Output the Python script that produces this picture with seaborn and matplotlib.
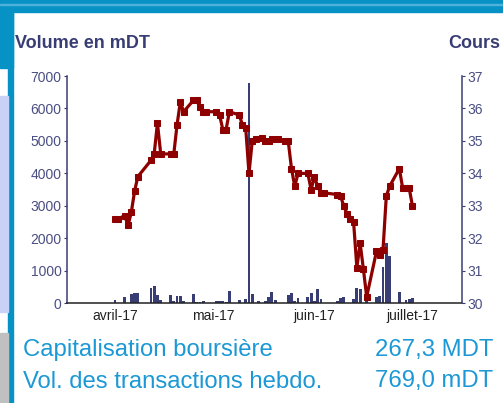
import matplotlib
matplotlib.use("Agg")
import matplotlib.pyplot as plt
import matplotlib.dates as mdates
from matplotlib.patches import Rectangle
import pandas as pd
import seaborn as sns

# Cours journalier (axe droit)
price_dates = [
    "2017-04-01", "2017-04-02", "2017-04-04", "2017-04-05", "2017-04-06",
    "2017-04-07", "2017-04-08", "2017-04-12", "2017-04-13", "2017-04-14",
    "2017-04-15", "2017-04-18", "2017-04-19", "2017-04-20", "2017-04-21",
    "2017-04-22", "2017-04-25", "2017-04-26", "2017-04-27", "2017-04-28",
    "2017-04-29", "2017-05-02", "2017-05-03", "2017-05-04", "2017-05-05",
    "2017-05-06", "2017-05-09", "2017-05-10", "2017-05-11", "2017-05-12",
    "2017-05-13", "2017-05-14", "2017-05-16", "2017-05-17", "2017-05-18",
    "2017-05-19", "2017-05-21", "2017-05-23", "2017-05-24", "2017-05-25",
    "2017-05-26", "2017-05-27", "2017-05-30", "2017-05-31", "2017-06-01",
    "2017-06-02", "2017-06-03", "2017-06-04", "2017-06-08", "2017-06-09",
    "2017-06-10", "2017-06-11", "2017-06-12", "2017-06-13", "2017-06-14",
    "2017-06-15", "2017-06-16", "2017-06-17", "2017-06-20", "2017-06-21",
    "2017-06-22", "2017-06-23", "2017-06-24", "2017-06-27", "2017-06-28",
    "2017-06-29", "2017-06-30", "2017-07-01",
]
price = [
    32.6, 32.6, 32.7, 32.4, 32.8,
    33.45, 33.9, 34.4, 34.6, 35.55,
    34.6, 34.6, 34.6, 35.5, 36.2,
    35.9, 36.25, 36.25, 36.05, 35.9,
    35.9, 35.9, 35.8, 35.35, 35.35,
    35.9, 35.8, 35.5, 35.4, 34.0,
    35.0, 35.05, 35.1, 35.0, 35.0,
    35.05, 35.05, 35.0, 35.0, 34.15,
    33.6, 34.0, 34.0, 33.5, 33.9,
    33.6, 33.4, 33.4, 33.35, 33.3,
    33.0, 32.75, 32.6, 32.5, 31.1,
    31.85, 31.05, 30.2, 31.6, 31.5,
    31.65, 33.3, 33.6, 34.15, 33.55,
    33.55, 33.55, 33.0,
]

# Volume journalier en mDT (axe gauche)
volume_dates = [
    "2017-04-01", "2017-04-04", "2017-04-06", "2017-04-07", "2017-04-08",
    "2017-04-12", "2017-04-13", "2017-04-14", "2017-04-15", "2017-04-18",
    "2017-04-19", "2017-04-20", "2017-04-21", "2017-04-22", "2017-04-25",
    "2017-04-26", "2017-04-27", "2017-04-28", "2017-05-02", "2017-05-03",
    "2017-05-04", "2017-05-05", "2017-05-06", "2017-05-09", "2017-05-11",
    "2017-05-12", "2017-05-13", "2017-05-15", "2017-05-17", "2017-05-18",
    "2017-05-19", "2017-05-20", "2017-05-24", "2017-05-25", "2017-05-26",
    "2017-05-27", "2017-05-30", "2017-05-31", "2017-06-01", "2017-06-02",
    "2017-06-03", "2017-06-08", "2017-06-09", "2017-06-10", "2017-06-13",
    "2017-06-14", "2017-06-15", "2017-06-17", "2017-06-20", "2017-06-21",
    "2017-06-22", "2017-06-23", "2017-06-24", "2017-06-27", "2017-06-29",
    "2017-06-30", "2017-07-01",
]
volume = [
    115, 205, 290, 308, 308,
    483, 524, 267, 103, 267,
    72, 236, 236, 72, 277,
    50, 30, 82, 82, 82,
    70, 50, 375, 100, 123,
    6780, 285, 75, 60, 185,
    345, 100, 257, 308, 82,
    154, 205, 308, 82, 431,
    123, 82, 154, 185, 123,
    472, 452, 82, 185, 226,
    1109, 1870, 1458, 339, 100,
    123, 154,
]

month_ticks = ["2017-04-01", "2017-05-01", "2017-06-01", "2017-07-01"]
month_labels = ["avril-17", "mai-17", "juin-17", "juillet-17"]
vol_ticks = [0, 1000, 2000, 3000, 4000, 5000, 6000, 7000]
price_ticks = [30, 31, 32, 33, 34, 35, 36, 37]

NAVY = "#383d74"
RED = "#8e0000"
BLUE_TXT = "#1b98d5"
BAND = "#0692c4"

sns.set_theme(style="white")
plt.rcParams["font.family"] = ["Liberation Sans", "DejaVu Sans"]

vol_df = pd.DataFrame({"x": mdates.date2num(pd.to_datetime(volume_dates)), "vol": volume})
price_df = pd.DataFrame({"x": mdates.date2num(pd.to_datetime(price_dates)), "cours": price})

fig = plt.figure(figsize=(5.03, 4.03), dpi=100)
fig.patch.set_facecolor("white")

# cadre du site (bandeau bleu, bords gauches)
deco = [
    ((0, 391 / 403), 1, 12 / 403, BAND),
    ((0, 335 / 403), 13 / 503, 68 / 403, BAND),
    ((8 / 503, 0), 5 / 503, 1, BAND),
    ((0, 91 / 403), 8 / 503, 216 / 403, "#c8d2f7"),
    ((0, 0), 8 / 503, 70 / 403, "#c0c0c0"),
    ((0, 398 / 403), 1, 1 / 403, "#4fb1dc"),
]
for xy, w, h, c in deco:
    fig.patches.append(Rectangle(xy, w, h, transform=fig.transFigure, color=c, zorder=0))

ax = fig.add_axes([67 / 503, 99.7 / 403, 395.3 / 503, 227.3 / 403])
sns.histplot(data=vol_df, x="x", weights="vol", discrete=True, shrink=0.86,
             color=NAVY, alpha=1, linewidth=0, ax=ax)
ax.set_ylim(0, 7000)
ax.set_yticks(vol_ticks)
ax.set_xlim(mdates.date2num(pd.Timestamp("2017-03-17 08:00")),
            mdates.date2num(pd.Timestamp("2017-07-16 06:00")))
ax.set_xticks(mdates.date2num(pd.to_datetime(month_ticks)))
ax.set_xticklabels(month_labels)
ax.set_xlabel("")
ax.set_ylabel("")

ax2 = ax.twinx()
sns.lineplot(data=price_df, x="x", y="cours", ax=ax2, color=RED, linewidth=2.3,
             marker="s", markersize=4.3, markeredgecolor=RED, markerfacecolor=RED)
ax2.set_ylim(30, 37)
ax2.set_yticks(price_ticks)
ax2.set_xlabel("")
ax2.set_ylabel("")

for a in (ax, ax2):
    for s in a.spines.values():
        s.set_visible(False)
ax.spines["left"].set_visible(True)
ax.spines["left"].set_color(NAVY)
ax.spines["left"].set_linewidth(1.1)
ax.spines["bottom"].set_visible(True)
ax.spines["bottom"].set_color("#222222")
ax.spines["bottom"].set_linewidth(1.1)
ax2.spines["right"].set_visible(True)
ax2.spines["right"].set_color(NAVY)
ax2.spines["right"].set_linewidth(1.1)

ax.tick_params(axis="y", left=True, length=2.5, width=0.8, color=NAVY, pad=1.5,
               labelsize=10, labelcolor="#4a4e82")
ax.tick_params(axis="x", bottom=False, length=0, pad=4, labelsize=10, labelcolor="#222222")
ax2.tick_params(axis="y", right=True, length=2.5, width=0.8, color=NAVY, pad=1.5,
                labelsize=10, labelcolor="#4a4e82")

fig.text(15 / 503, 355 / 403, "Volume en mDT", fontsize=13, fontweight="bold",
         color=NAVY, va="baseline", ha="left")
fig.text(500 / 503, 355 / 403, "Cours", fontsize=13, fontweight="bold",
         color=NAVY, va="baseline", ha="right")

fig.text(23 / 503, 47 / 403, "Capitalisation boursière", fontsize=17.2,
         color=BLUE_TXT, va="baseline", ha="left")
fig.text(493 / 503, 47 / 403, "267,3 MDT", fontsize=17.2,
         color=BLUE_TXT, va="baseline", ha="right")
fig.text(23 / 503, 15.5 / 403, "Vol. des transactions hebdo.", fontsize=17.2,
         color=BLUE_TXT, va="baseline", ha="left")
fig.text(493 / 503, 15.5 / 403, "769,0 mDT", fontsize=17.2,
         color=BLUE_TXT, va="baseline", ha="right")

fig.savefig("out.png", dpi=100)
